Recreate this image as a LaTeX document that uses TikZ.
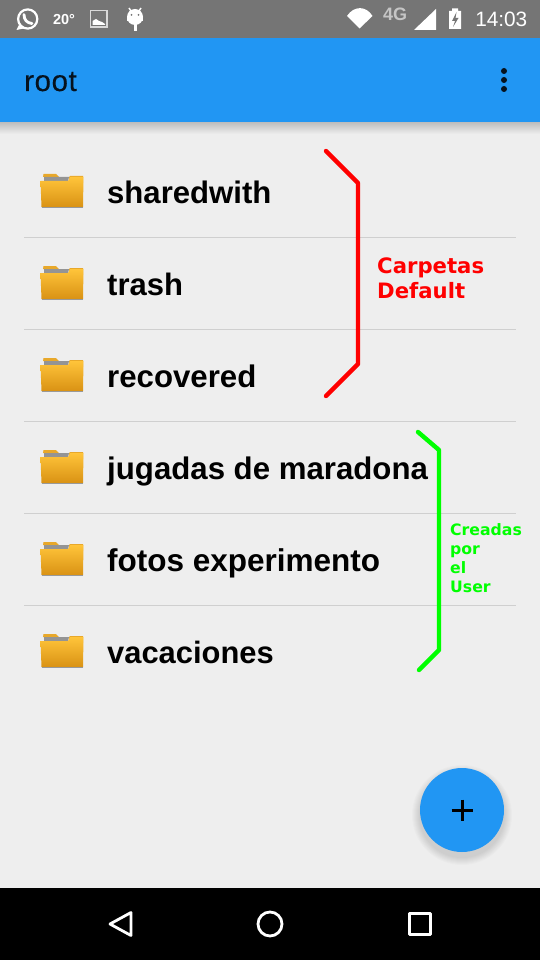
\documentclass[tikz,border=0pt]{standalone}
\usepackage{fontspec}
\setmainfont{Liberation Sans}
\newfontfamily\djv{DejaVu Sans}
\newfontfamily\medf[FakeBold=0.35,LetterSpace=2]{Liberation Sans}
\usetikzlibrary{shadings,fadings}
\definecolor{bg}{HTML}{EEEEEE}
\definecolor{statusgrey}{HTML}{757575}
\definecolor{appblue}{HTML}{2196F3}
\definecolor{divider}{HTML}{CFCFCF}
\definecolor{inktitle}{HTML}{06121E}
\definecolor{foldtop}{HTML}{FFC43A}
\definecolor{foldbot}{HTML}{D99214}
\definecolor{foldback}{HTML}{E8A82A}
\definecolor{redmark}{HTML}{FF0000}
\definecolor{greenmark}{HTML}{00FF00}
\tikzset{
  rowlabel/.style={anchor=base west,inner sep=0pt,font=\fontsize{#1}{#1}\selectfont\bfseries,text=black},
  rowline/.style={draw=divider,line width=1pt},
  bracketred/.style={draw=redmark,line width=4.4pt,line cap=round,line join=round},
  bracketgreen/.style={draw=greenmark,line width=4.4pt,line cap=round,line join=round},
  notered/.style={anchor=base west,inner sep=0pt,text=redmark,font=\djv\bfseries\fontsize{21.2}{21.2}\selectfont},
  notegreen/.style={anchor=base west,inner sep=0pt,text=greenmark,font=\djv\bfseries\fontsize{15.7}{15.7}\selectfont},
  statustext/.style={inner sep=0pt,text=white},
  navicon/.style={draw=white,line width=2.8pt,line join=round},
  pics/folder/.style={code={
    \fill[foldback] (2,-14) -- (2.5,-17) -- (15,-17) -- (18,-14) -- cycle;
    \fill[foldback] (28,-14) -- (29,-15) -- (42,-15) -- (42,-8) -- (28,-8) -- cycle;
    \fill[black!42] (3,-14) -- (28,-14) -- (27,-10) -- (3,-10) -- cycle;
    \shade[top color=foldtop,bottom color=foldbot] (-0.5,-10) -- (27,-10) -- (29,-14) -- (42.5,-14) -- (42,16) -- (0.5,16) -- cycle;
    \draw[black!40,line width=0.8pt] (0.5,16.3) -- (42,16.3);
  }}
}
\begin{document}
\begin{tikzpicture}[x=1pt,y=-1pt]
\useasboundingbox (0,0) rectangle (540,960);
\fill[bg] (0,0) rectangle (540,960);
% status bar
\fill[statusgrey] (0,0) rectangle (540,38);
% app bar shadow
\shade[top color=black!26,bottom color=bg] (0,122) rectangle (540,134);
\fill[appblue] (0,38) rectangle (540,122);
\node[anchor=base west,inner sep=0pt,text=inktitle,font=\medf\fontsize{29.5}{29.5}\selectfont] (title) at (24,91) {root};
\foreach \yy in {71,80,89} \fill[inktitle] (504,\yy) circle (3);
% status icons
\draw[white,line width=2.2pt] (27.7,19) circle (9.6);
\fill[white] (19,25) -- (16.5,30) -- (24,28.5) -- cycle;
\draw[white,line width=2.8pt,line cap=round] (24,14.5) .. controls (24,20) and (27,23) .. (32,23.5);
\node[statustext,font=\bfseries\fontsize{14.5}{14.5}\selectfont] (temp) at (64,19.5) {20°};
\draw[white!85!black,line width=1.3pt] (90.5,10.5) rectangle (107,27);
\fill[white] (92.5,25) -- (92.5,21) -- (96,19) -- (99,21) -- (102,22) -- (105,24) -- (105,25) -- cycle;
\fill[white] (135,17) circle (8);
\fill[white] (127,17) rectangle (143,21);
\fill[white] (133.8,24) rectangle (136.6,31);
\draw[white,line width=1.4pt] (129,8) -- (131,11) (141,8) -- (139,11);
\fill[statusgrey] (131.5,15) circle (1) (138.5,15) circle (1);
\fill[white] (347,16) .. controls (354,5.5) and (366,5.5) .. (372.5,16) -- (359.5,28.5) -- cycle;
\node[statustext,text=white!58!statusgrey,font=\bfseries\fontsize{18}{18}\selectfont] (net) at (395,14.5) {4G};
\fill[white] (414,30) -- (436,9) -- (436,30) -- cycle;
\fill[white] (449,11) -- (452,11) -- (452,8.5) -- (458,8.5) -- (458,11) -- (461,11) -- (461,29) -- (449,29) -- cycle;
\fill[statusgrey] (456.5,12) -- (452,21) -- (455,21) -- (453,27) -- (458.5,18) -- (455.5,18) -- cycle;
\node[statustext,anchor=base east,font=\fontsize{20.8}{20.8}\selectfont] (clock) at (527.5,27) {14:03};
% rows
\foreach \yy in {237,329,421,513,605} \draw[rowline] (24,\yy) -- (516,\yy);
\foreach \yy in {191,283,375,467,559,651} \pic at (41,\yy) {folder};
\node[rowlabel=31.1] (r1) at (107,203) {sharedwith};
\node[rowlabel=31] (r2) at (107,295) {trash};
\node[rowlabel=31.2] (r3) at (107,387) {recovered};
\node[rowlabel=31.2] (r4) at (107,479) {jugadas de maradona};
\node[rowlabel=31.5] (r5) at (107,571) {fotos experimento};
\node[rowlabel=30.9] (r6) at (107,663) {vacaciones};
% brackets
\draw[bracketred] (326,151) -- (358,183) -- (358,364) -- (326,396);
\node[notered] (n1) at (377,273) {Carpetas};
\node[notered] (n2) at (377,298) {Default};
\draw[bracketgreen] (418,432) -- (439,450) -- (439,650) -- (419,670);
\node[notegreen] (g1) at (450,535) {Creadas};
\node[notegreen] (g2) at (450,554) {por};
\node[notegreen] (g3) at (450,573) {el};
\node[notegreen] (g4) at (450,592) {User};
% FAB
\foreach \rr in {50,49,48,47,46,45,44,43} \fill[black,opacity=0.016] (462,815) circle (\rr);
\fill[appblue] (462,810) circle (42);
\draw[black,line width=3pt] (451.5,810) -- (472.5,810) (462,799.5) -- (462,820.5);
% nav bar
\fill[black] (0,888) rectangle (540,960);
\draw[navicon] (131,912.5) -- (110,924) -- (131,935.5) -- cycle;
\draw[navicon] (270,924) circle (12);
\draw[navicon] (409.5,913.5) rectangle (430.5,934.5);
\end{tikzpicture}
\end{document}
